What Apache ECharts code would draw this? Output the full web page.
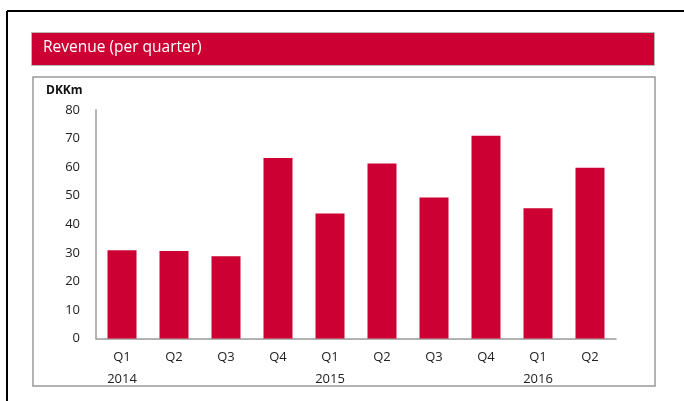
<!DOCTYPE html>
<html>
<head>
<meta charset="utf-8">
<script src="https://cdn.jsdelivr.net/npm/echarts@6/dist/echarts.min.js"></script>
<style>
  html, body { margin: 0; padding: 0; background: #fff; }
  #chart { width: 684px; height: 401px; }
</style>
</head>
<body>
<div id="chart"></div>
<script>
const quarters = ["Q1", "Q2", "Q3", "Q4", "Q1", "Q2", "Q3", "Q4", "Q1", "Q2"];
const years = ["2014", "", "", "", "2015", "", "", "", "2016", ""];
const revenue = [30.9, 30.6, 28.8, 63.2, 43.8, 61.3, 49.4, 71.0, 45.6, 59.8];
const yTicks = [0, 80, 10];

const red = "#CC0033";
const font = "'Open Sans', 'Liberation Sans', sans-serif";

const chart = echarts.init(document.getElementById("chart"));

chart.setOption({
  animation: false,
  backgroundColor: "#fff",
  grid: { left: 96, right: 68, top: 110, bottom: 62.5 },
  graphic: [
    { type: "line", shape: { x1: 7, y1: 11, x2: 684, y2: 11 }, style: { stroke: "#000", lineWidth: 2 } },
    { type: "line", shape: { x1: 7, y1: 11, x2: 7, y2: 401 }, style: { stroke: "#000", lineWidth: 2 } },
    { type: "rect", shape: { x: 31.5, y: 32.5, width: 623, height: 33 }, style: { fill: red, stroke: "#b8b8b8", lineWidth: 1 } },
    { type: "text", left: 43, top: 40, style: { text: "Revenue (per quarter)", fill: "#fff", font: "15.5px " + font } },
    { type: "rect", shape: { x: 33, y: 77, width: 622, height: 309 }, style: { fill: "none", stroke: "#999", lineWidth: 1.5 }, z: -1 },
    { type: "text", left: 46, top: 85, style: { text: "DKKm", fill: "#111", font: "bold 12px " + font } }
  ],
  xAxis: [
    {
      type: "category",
      data: quarters,
      position: "bottom",
      axisLine: { lineStyle: { color: "#999", width: 1.5 } },
      axisTick: { show: false },
      axisLabel: { color: "#222", fontSize: 13, fontFamily: font, margin: 12 }
    },
    {
      type: "category",
      data: years,
      position: "bottom",
      offset: 22,
      axisLine: { show: false },
      axisTick: { show: false },
      axisLabel: { color: "#222", fontSize: 13, fontFamily: font, margin: 12, interval: 0 }
    }
  ],
  yAxis: {
    type: "value",
    min: yTicks[0],
    max: yTicks[1],
    interval: yTicks[2],
    axisLine: { show: true, lineStyle: { color: "#999", width: 1.5 } },
    axisTick: { show: false },
    splitLine: { show: false },
    axisLabel: { color: "#222", fontSize: 13, fontFamily: font, margin: 16 }
  },
  series: [
    {
      type: "bar",
      data: revenue,
      barWidth: 29,
      itemStyle: { color: red }
    }
  ]
});
</script>
</body>
</html>
